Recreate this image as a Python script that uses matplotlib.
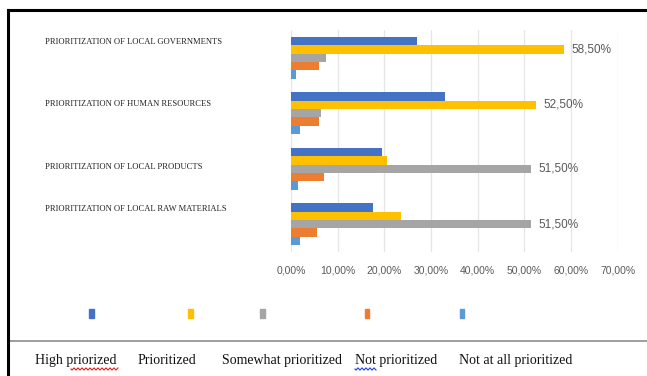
import numpy as np
import matplotlib
matplotlib.use('Agg')
import matplotlib.pyplot as plt
import matplotlib.transforms as mtransforms
from matplotlib.patches import Rectangle
from matplotlib.lines import Line2D

categories = ['PRIORITIZATION OF LOCAL GOVERNMENTS',
              'PRIORITIZATION OF HUMAN RESOURCES',
              'PRIORITIZATION OF LOCAL PRODUCTS',
              'PRIORITIZATION OF LOCAL RAW MATERIALS']
series = ['High priorized', 'Prioritized', 'Somewhat prioritized',
          'Not prioritized', 'Not at all prioritized']

high_priorized = [27.0, 33.0, 19.5, 17.5]
prioritized = [58.5, 52.5, 20.5, 23.5]
somewhat_prioritized = [7.5, 6.5, 51.5, 51.5]
not_prioritized = [6.0, 6.0, 7.0, 5.5]
not_at_all = [1.0, 2.0, 1.5, 2.0]

xticks = np.arange(0, 71, 10)
xticklabels = ['{:.2f}%'.format(v).replace('.', ',') for v in xticks]

colors = ['#4472C4', '#FFC000', '#A5A5A5', '#ED7D31', '#5B9BD5']
values = [high_priorized, prioritized, somewhat_prioritized, not_prioritized, not_at_all]

W, H = 647, 376
fig = plt.figure(figsize=(W / 100, H / 100), dpi=100)
ax = fig.add_axes([291 / W, 1 - 252 / H, 326.7 / W, 222 / H])

bh = 0.15
pos = np.arange(len(categories))
for k, (vals, c) in enumerate(zip(values, colors)):
    ax.barh(pos + (k - 2) * bh, vals, height=bh, color=c, zorder=3)

# label only the biggest bar of every group
data = np.array(values)
for i in pos:
    k = np.argmax(data[:, i])
    v = data[k, i]
    ax.text(v + 1.5, i + (k - 2) * bh, '{:.2f}%'.format(v).replace('.', ','),
            va='center', ha='left', fontsize=8.5, color='#595959',
            family='Liberation Sans')

ax.set_xlim(0, 70)
ax.set_ylim(3.5, -0.5)
ax.set_yticks([])
ax.set_xticks(xticks)
ax.set_xticklabels(xticklabels, fontsize=7.5, color='#595959', family='Liberation Sans')
ax.tick_params(axis='x', length=0, pad=10)
for s in ax.spines.values():
    s.set_visible(False)
ax.grid(axis='x', color='#E6E6E6', lw=0.9, zorder=0)
ax.set_axisbelow(True)

# category labels on the far left
trans = mtransforms.blended_transform_factory(fig.transFigure, ax.transData)
label_dy = [-0.29, -0.17, -0.03, -0.27]
for i, (cat, dy) in enumerate(zip(categories, label_dy)):
    ax.text(45 / W, i + dy, cat, transform=trans, fontsize=6.1,
            family='Liberation Serif', va='center', ha='left', color='#222222')

# legend squares
sq_x = [91, 190, 262, 367, 462]
for x, c in zip(sq_x, colors):
    fig.patches.append(Rectangle(((x - 2.5) / W, 1 - 317.5 / H), 5 / W, 9 / H,
                                 transform=fig.transFigure, color=c))

# legend names below the divider
txt_x = [35, 138, 222, 355, 459]
for x, s in zip(txt_x, series):
    fig.text(x / W, 1 - 364 / H, s, fontsize=10, family='Liberation Serif',
             va='baseline', ha='left', color='#111111')

# spell-check squiggles
def squiggle(x0, x1, y, color):
    xs = np.linspace(x0, x1, 80)
    ys = y + 1.0 * np.sin((xs - x0) * np.pi / 2)
    fig.add_artist(Line2D(xs / W, 1 - ys / H, color=color, lw=0.8,
                          transform=fig.transFigure))

squiggle(71, 118, 369, '#E02020')
squiggle(355, 376, 369, '#2040E0')

# frame lines
fig.add_artist(Line2D([8 / W, 1], [1 - 341 / H, 1 - 341 / H], color='#8C8C8C', lw=1.2,
                      transform=fig.transFigure))
fig.add_artist(Line2D([7.5 / W, 1], [1 - 9.5 / H, 1 - 9.5 / H], color='black', lw=2.2,
                      transform=fig.transFigure))
fig.add_artist(Line2D([7.5 / W, 7.5 / W], [0, 1 - 9.5 / H], color='black', lw=2.2,
                      transform=fig.transFigure))

fig.savefig('out.png', dpi=100)
